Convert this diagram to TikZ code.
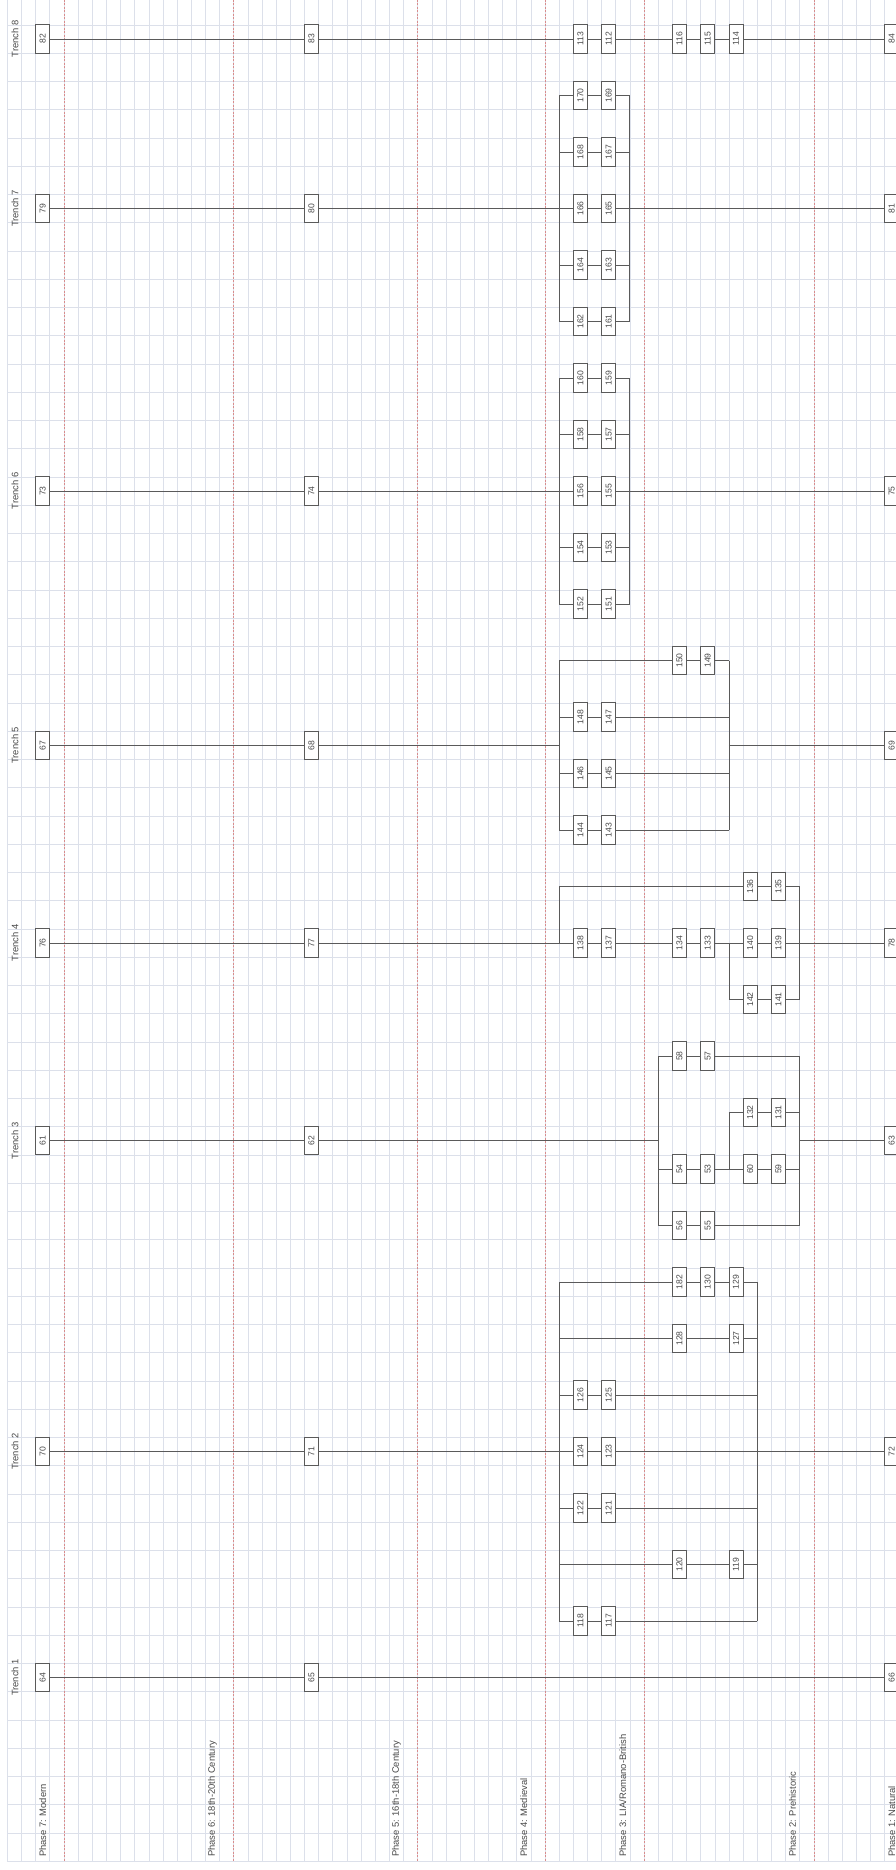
\documentclass[tikz,border=0pt]{standalone}
\usepackage{fontspec}
\setmainfont{Liberation Sans}
\usepackage{graphicx}
\definecolor{gridc}{HTML}{DCE0EA}
\definecolor{phasec}{HTML}{D98C8C}
\definecolor{linec}{HTML}{5A5A5A}
\definecolor{txtc}{HTML}{4A4A4A}
\newcommand\hmbox[3]{\node[ubox] (n#1) at ({7.3+14.15*(#2+0.5)},{39+28.25*#3}) {\rotatebox{90}{#1}};}
\newcommand\hmpt[3]{\coordinate (#1) at ({7.3+14.15*#2},{39+28.25*#3});}
\tikzset{
 ubox/.style={draw=linec, line width=0.8pt, fill=white, minimum width=14.15pt, minimum height=28.25pt, inner sep=0pt, text=txtc, font=\fontsize{8.6}{8.6}\selectfont},
 link/.style={draw=linec, line width=0.9pt},
 gridln/.style={draw=gridc, line width=0.6pt},
 phaseln/.style={draw=phasec, line width=0.7pt, dash pattern=on 2pt off 1.5pt},
 trlabel/.style={rotate=90, text=txtc, font=\fontsize{9.4}{9.4}\selectfont, inner sep=0pt},
 phlabel/.style={rotate=90, anchor=west, text=txtc, font=\fontsize{9.4}{9.4}\selectfont, inner sep=0pt},
}
\begin{document}
\begin{tikzpicture}[x=1pt,y=-1pt]
\fill[white] (0,0) rectangle (896,1870);
\useasboundingbox (0,0) rectangle (896,1870);
% grid
\foreach \m in {0,...,62} \draw[gridln] ({7.3+14.15*\m},0) -- ({7.3+14.15*\m},1861);
\foreach \k in {-1,...,64} \draw[gridln] (7.3,{39+28.25*(\k+0.5)}) -- (896,{39+28.25*(\k+0.5)});
\foreach \m in {4,16,29,38,45,57} \draw[phaseln] ({7.3+14.15*\m},0) -- ({7.3+14.15*\m},1861);
% phase labels
\node[phlabel] (p7) at ({7.3+14.15*2.5},1857) {Phase 7: Modern};
\node[phlabel] (p6) at ({7.3+14.15*14.5},1857) {Phase 6: 18th-20th Century};
\node[phlabel] (p5) at ({7.3+14.15*27.5},1857) {Phase 5: 16th-18th Century};
\node[phlabel] (p4) at ({7.3+14.15*36.5},1857) {Phase 4: Medieval};
\node[phlabel] (p3) at ({7.3+14.15*43.5},1857) {Phase 3: LIA/Romano-British};
\node[phlabel] (p2) at ({7.3+14.15*55.5},1857) {Phase 2: Prehistoric};
\node[phlabel] (p1) at ({7.3+14.15*62.5},1857) {Phase 1: Natural};
% trench labels
\foreach \t/\k in {8/0,7/6,6/16,5/25,4/32,3/39,2/50,1/58}
  \node[trlabel] (t\t) at (15,{39+28.25*\k}) {Trench \t};
% Trench 8
\hmbox{82}{2}{0} \hmbox{83}{21}{0} \hmbox{113}{40}{0} \hmbox{112}{42}{0}
\hmbox{116}{47}{0} \hmbox{115}{49}{0} \hmbox{114}{51}{0} \hmbox{84}{62}{0}
\draw[link] (n82)--(n83)--(n113)--(n112)--(n116)--(n115)--(n114)--(n84);
% Trench 7
\hmbox{79}{2}{6} \hmbox{80}{21}{6} \hmbox{81}{62}{6}
\foreach \k/\a/\b in {2/170/169,4/168/167,6/166/165,8/164/163,10/162/161}{
  \hmbox{\a}{40}{\k} \hmbox{\b}{42}{\k}
  \hmpt{sL\k}{39}{\k} \hmpt{sR\k}{44}{\k}
  \draw[link] (sL\k)--(n\a)--(n\b)--(sR\k);
}
\draw[link] (sL2)--(sL10); \draw[link] (sR2)--(sR10);
\draw[link] (n79)--(n80)--(sL6); \draw[link] (sR6)--(n81);
% Trench 6
\hmbox{73}{2}{16} \hmbox{74}{21}{16} \hmbox{75}{62}{16}
\foreach \k/\a/\b in {12/160/159,14/158/157,16/156/155,18/154/153,20/152/151}{
  \hmbox{\a}{40}{\k} \hmbox{\b}{42}{\k}
  \hmpt{sL\k}{39}{\k} \hmpt{sR\k}{44}{\k}
  \draw[link] (sL\k)--(n\a)--(n\b)--(sR\k);
}
\draw[link] (sL12)--(sL20); \draw[link] (sR12)--(sR20);
\draw[link] (n73)--(n74)--(sL16); \draw[link] (sR16)--(n75);
% Trench 5
\hmbox{67}{2}{25} \hmbox{68}{21}{25} \hmbox{69}{62}{25}
\hmpt{fL22}{39}{22} \hmpt{fL25}{39}{25} \hmpt{fL28}{39}{28}
\hmpt{fR22}{51}{22} \hmpt{fR25}{51}{25} \hmpt{fR28}{51}{28}
\hmbox{150}{47}{22} \hmbox{149}{49}{22}
\draw[link] (fL22)--(n150)--(n149)--(fR22);
\foreach \k/\a/\b in {24/148/147,26/146/145,28/144/143}{
  \hmbox{\a}{40}{\k} \hmbox{\b}{42}{\k}
  \hmpt{fL\k}{39}{\k} \hmpt{fR\k}{51}{\k}
  \draw[link] (fL\k)--(n\a)--(n\b)--(fR\k);
}
\draw[link] (fL22)--(fL28); \draw[link] (fR22)--(fR28);
\draw[link] (n67)--(n68)--(fL25); \draw[link] (fR25)--(n69);
% Trench 4
\hmbox{76}{2}{32} \hmbox{77}{21}{32} \hmbox{78}{62}{32}
\hmbox{138}{40}{32} \hmbox{137}{42}{32} \hmbox{134}{47}{32} \hmbox{133}{49}{32}
\hmbox{140}{52}{32} \hmbox{139}{54}{32}
\hmbox{136}{52}{30} \hmbox{135}{54}{30}
\hmbox{142}{52}{34} \hmbox{141}{54}{34}
\hmpt{qL30}{39}{30} \hmpt{qL32}{39}{32}
\hmpt{qJ32}{51}{32} \hmpt{qJ34}{51}{34}
\hmpt{qR30}{56}{30} \hmpt{qR32}{56}{32} \hmpt{qR34}{56}{34}
\draw[link] (n76)--(n77)--(n138)--(n137)--(n134)--(n133)--(n140)--(n139)--(n78);
\draw[link] (qL30)--(qL32); \draw[link] (qJ32)--(qJ34); \draw[link] (qR30)--(qR34);
\draw[link] (qL30)--(n136)--(n135)--(qR30);
\draw[link] (qJ34)--(n142)--(n141)--(qR34);
% Trench 3
\hmbox{61}{2}{39} \hmbox{62}{21}{39} \hmbox{63}{62}{39}
\hmbox{58}{47}{36} \hmbox{57}{49}{36}
\hmbox{54}{47}{40} \hmbox{53}{49}{40}
\hmbox{56}{47}{42} \hmbox{55}{49}{42}
\hmbox{132}{52}{38} \hmbox{131}{54}{38}
\hmbox{60}{52}{40} \hmbox{59}{54}{40}
\hmpt{hL36}{46}{36} \hmpt{hL39}{46}{39} \hmpt{hL40}{46}{40} \hmpt{hL42}{46}{42}
\hmpt{hJ38}{51}{38} \hmpt{hJ40}{51}{40}
\hmpt{hR36}{56}{36} \hmpt{hR38}{56}{38} \hmpt{hR39}{56}{39} \hmpt{hR40}{56}{40} \hmpt{hR42}{56}{42}
\draw[link] (hL36)--(hL42); \draw[link] (hJ38)--(hJ40); \draw[link] (hR36)--(hR42);
\draw[link] (n61)--(n62)--(hL39); \draw[link] (hR39)--(n63);
\draw[link] (hL36)--(n58)--(n57)--(hR36);
\draw[link] (hL40)--(n54)--(n53)--(hJ40);
\draw[link] (hJ38)--(n132)--(n131)--(hR38);
\draw[link] (hJ40)--(n60)--(n59)--(hR40);
\draw[link] (hL42)--(n56)--(n55)--(hR42);
% Trench 2
\hmbox{70}{2}{50} \hmbox{71}{21}{50} \hmbox{72}{62}{50}
\hmbox{182}{47}{44} \hmbox{130}{49}{44} \hmbox{129}{51}{44}
\hmbox{128}{47}{46} \hmbox{127}{51}{46}
\hmbox{120}{47}{54} \hmbox{119}{51}{54}
\foreach \k in {44,46,48,50,52,54,56}{ \hmpt{wL\k}{39}{\k} \hmpt{wR\k}{53}{\k} }
\foreach \k/\a/\b in {48/126/125,50/124/123,52/122/121,56/118/117}{
  \hmbox{\a}{40}{\k} \hmbox{\b}{42}{\k}
}
\draw[link] (wL44)--(wL56); \draw[link] (wR44)--(wR56);
\draw[link] (n70)--(n71)--(n124)--(n123)--(n72);
\draw[link] (wL44)--(n182)--(n130)--(n129)--(wR44);
\draw[link] (wL46)--(n128)--(n127)--(wR46);
\draw[link] (wL48)--(n126)--(n125)--(wR48);
\draw[link] (wL52)--(n122)--(n121)--(wR52);
\draw[link] (wL54)--(n120)--(n119)--(wR54);
\draw[link] (wL56)--(n118)--(n117)--(wR56);
% Trench 1
\hmbox{64}{2}{58} \hmbox{65}{21}{58} \hmbox{66}{62}{58}
\draw[link] (n64)--(n65)--(n66);
\end{tikzpicture}
\end{document}
